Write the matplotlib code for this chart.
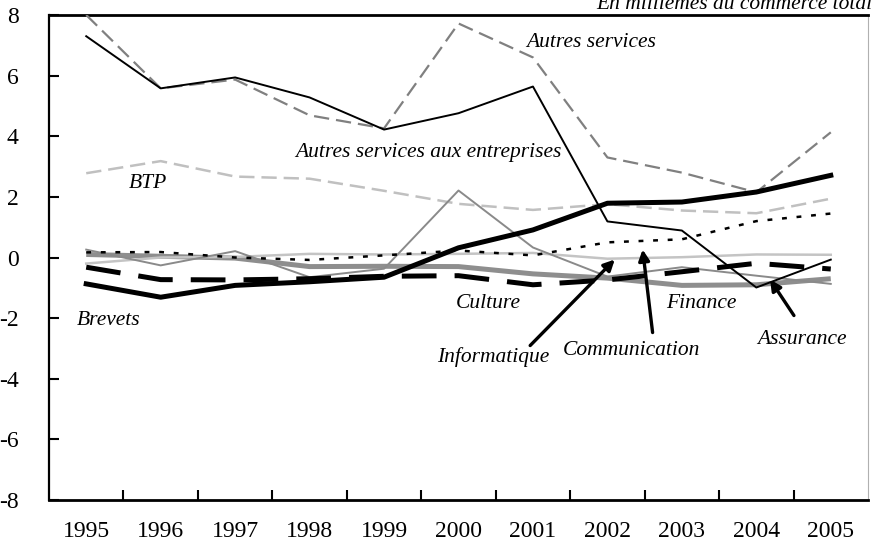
import matplotlib
matplotlib.use("Agg")
import matplotlib.pyplot as plt
import numpy as np

plt.rcParams['font.family'] = ['Liberation Serif', 'DejaVu Serif']
plt.rcParams['axes.unicode_minus'] = False
plt.rcParams['lines.scale_dashes'] = False

years = ['1995', '1996', '1997', '1998', '1999', '2000', '2001', '2002', '2003', '2004', '2005']

autres_services = [8.0, 5.58, 5.87, 4.69, 4.26, 7.72, 6.6, 3.3, 2.8, 2.15, 4.13]
autres_serv_entreprises = [7.3, 5.58, 5.94, 5.28, 4.22, 4.76, 5.64, 1.19, 0.89, -0.99, -0.07]
btp = [2.78, 3.18, 2.67, 2.6, 2.2, 1.77, 1.57, 1.76, 1.55, 1.46, 1.94]
brevets = [-0.87, -1.31, -0.92, -0.8, -0.65, 0.32, 0.91, 1.79, 1.83, 2.16, 2.71]
assurance = [-0.32, -0.73, -0.74, -0.7, -0.62, -0.6, -0.9, -0.74, -0.47, -0.19, -0.38]
culture = [0.26, -0.26, 0.21, -0.65, -0.37, 2.21, 0.33, -0.63, -0.32, -0.6, -0.87]
finance = [0.1, 0.04, -0.02, -0.3, -0.29, -0.3, -0.54, -0.68, -0.92, -0.9, -0.7]
informatique = [-0.2, 0.0, 0.02, 0.12, 0.1, 0.12, 0.15, -0.04, 0.01, 0.1, 0.09]
communication = [0.17, 0.18, 0.0, -0.08, 0.07, 0.23, 0.07, 0.5, 0.6, 1.2, 1.45]

labels = ['Autres services', 'Autres services aux entreprises', 'BTP', 'Brevets', 'Culture',
          'Finance', 'Assurance', 'Communication', 'Informatique']

fig = plt.figure(figsize=(8.71, 5.48), dpi=100)
ax = fig.add_axes([49/871, 48/548, (868-49)/871, (500-15)/548])

x = np.arange(len(years))

ax.plot(x, finance, color='#8e8e8e', lw=3.6, solid_capstyle='butt', zorder=2)
ax.plot(x, informatique, color='#c4c4c4', lw=1.8, zorder=2)
ax.plot(x, culture, color='#8a8a8a', lw=1.4, zorder=3)
ax.plot(x, btp, color='#c0c0c0', lw=1.8, dashes=(11, 5), zorder=2)
ax.plot(x, autres_services, color='#808080', lw=1.6, dashes=(11, 5), zorder=3)
ax.plot(x, communication, color='black', lw=1.8, dashes=(3.5, 7), zorder=4)
ax.plot(x, assurance, color='black', lw=3.6, dashes=(25, 13), zorder=4)
ax.plot(x, brevets, color='black', lw=3.6, zorder=5)
ax.plot(x, autres_serv_entreprises, color='black', lw=1.4, zorder=5)

ax.set_xlim(-0.5, 10.5)
ax.set_ylim(-8, 8)
ax.set_yticks(np.arange(-8, 9, 2))
ax.set_xticks(x)
ax.set_xticklabels(years)
ax.set_xticks(np.arange(0.5, 10, 1), minor=True)
ax.tick_params(axis='x', which='major', length=0, pad=15, labelsize=17)
ax.tick_params(axis='x', which='minor', direction='in', length=7, width=1.5)
ax.tick_params(axis='y', direction='in', length=7, width=1.5, pad=22, labelsize=17)

for s in ['left', 'bottom', 'top']:
    ax.spines[s].set_color('black')
ax.spines['left'].set_linewidth(1.6)
ax.spines['bottom'].set_linewidth(2.0)
ax.spines['top'].set_linewidth(2.0)
ax.spines['right'].set_color('#b0b0b0')
ax.spines['right'].set_linewidth(0.8)

def px(xp, yp):
    return ((xp - 86) / 74.8, (257 - yp) / 30.3)

fs = 15.5
txt = dict(fontsize=fs, style='italic', ha='center', va='center')
label_pos = [(593, 42), (430, 152), (148, 183), (108, 320), (490, 303),
             (704, 303), (805, 339), (634, 350), (495, 357)]
for lab, (xp, yp) in zip(labels, label_pos):
    ax.text(*px(xp, yp), lab, **txt)

arrows = [((532, 345), (617, 259)), ((655, 332), (645, 249)), ((797, 315), (773, 279))]
for (t, h) in arrows:
    ax.annotate('', xy=px(*h), xytext=px(*t),
                arrowprops=dict(arrowstyle='-|>', color='black', lw=2.4,
                                mutation_scale=16, shrinkA=0, shrinkB=0))

fig.text(872/871, 1 - 9/548, 'En millièmes du commerce total', fontsize=fs,
         style='italic', ha='right', va='baseline')

fig.savefig('out.png', dpi=100)
